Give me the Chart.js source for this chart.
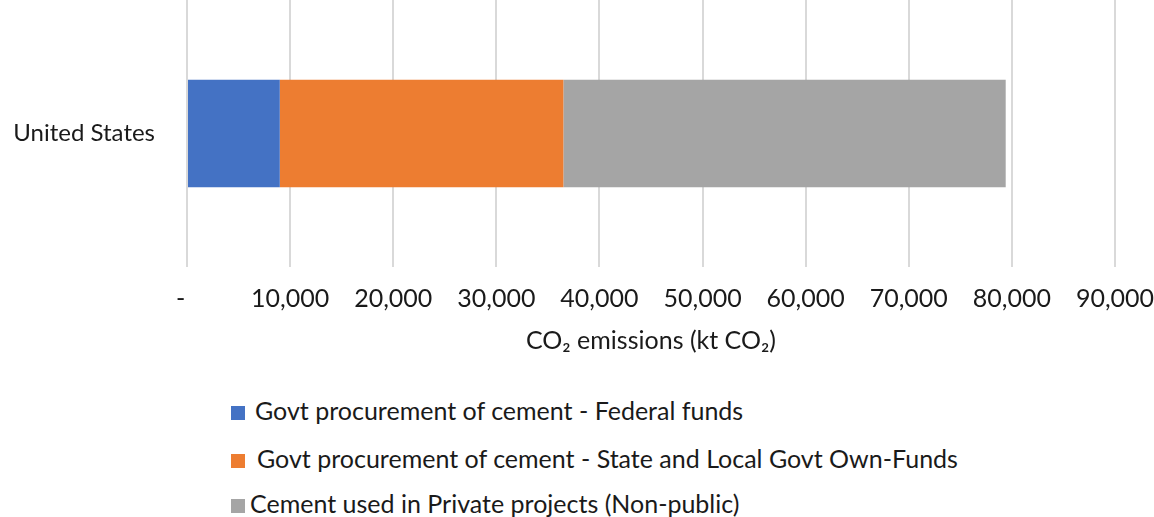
<!DOCTYPE html>
<html>
<head>
<meta charset="utf-8">
<script src="https://cdn.jsdelivr.net/npm/chart.js@4"></script>
<style>
  body { margin: 0; background: #fff; font-family: Lato, "Open Sans", sans-serif; }
  .wrap { position: relative; width: 1154px; height: 370px; }
  .legend { position: absolute; left: 0; top: 0; color: #1a1a1a; font-size: 25px; }
  .legend div { position: absolute; left: 231px; height: 30px; line-height: 30px; white-space: nowrap; }
  .legend span.box { display: inline-block; width: 14px; height: 14px; vertical-align: 0px; }
</style>
</head>
<body>
<div class="wrap"><canvas id="myChart" width="1154" height="370"></canvas></div>
<div class="legend" id="legend"></div>
<script>
const categories = ["United States"];
const seriesNames = [
  "Govt procurement of cement - Federal funds",
  "Govt procurement of cement - State and Local Govt Own-Funds",
  "Cement used in Private projects (Non-public)"
];
const federalFunds = [9000];
const stateLocalFunds = [27500];
const privateProjects = [42900];
const colors = ["#4472C4", "#ED7D31", "#A5A5A5"];
const axisTitle = "CO\u2082 emissions (kt CO\u2082)";

const chartCanvas = document.querySelector("#myChart");
const fontFamily = "Lato, 'Open Sans', sans-serif";
const textColor = "#1a1a1a";

const seriesValues = [federalFunds, stateLocalFunds, privateProjects];

new Chart(chartCanvas, {
  type: "bar",
  data: {
    labels: categories,
    datasets: seriesValues.map((values, i) => ({
      label: seriesNames[i],
      data: values,
      backgroundColor: colors[i],
      borderWidth: 0,
      barPercentage: 0.403,
      categoryPercentage: 1,
    })),
  },
  options: {
    indexAxis: "y",
    responsive: false,
    animation: false,
    layout: { padding: { left: 0, right: 39, top: 0, bottom: 0 } },
    plugins: { legend: { display: false }, tooltip: { enabled: false } },
    scales: {
      x: {
        stacked: true,
        min: 0,
        max: 90000,
        ticks: {
          stepSize: 10000,
          padding: 17,
          maxRotation: 0,
          color: textColor,
          font: { family: fontFamily, size: 25 },
          // accounting style: zero shown as a dash sitting a bit left
          callback: (v) => (v === 0 ? "-  " : v.toLocaleString("en-US")),
        },
        grid: { color: "#d9d9d9", lineWidth: 2, drawTicks: false },
        border: { display: false },
        title: {
          display: true,
          text: axisTitle,
          color: textColor,
          font: { family: fontFamily, size: 25 },
          padding: { top: 4, bottom: 14 },
        },
        afterFit: (scale) => {
          scale.height = 103;
          scale.paddingLeft = 0;
          scale.paddingRight = 0;
        },
      },
      y: {
        stacked: true,
        ticks: {
          padding: 24,
          color: textColor,
          font: { family: fontFamily, size: 24 },
        },
        grid: { display: false },
        border: { display: false },
        afterFit: (scale) => {
          scale.width = 187;
          scale.paddingTop = 0;
          scale.paddingBottom = 0;
        },
      },
    },
  },
});

// legend rows: vertical centre and gap between swatch and text, as in the picture
const legendRows = [410, 458, 503];
const legendGaps = [10, 12, 5];
const legendBox = document.querySelector("#legend");
seriesNames.forEach((name, i) => {
  const row = document.createElement("div");
  row.style.top = legendRows[i] - 15 + "px";
  row.innerHTML = `<span class="box" style="background:${colors[i]};margin-right:${legendGaps[i]}px"></span>${name}`;
  legendBox.appendChild(row);
});
</script>
</body>
</html>
